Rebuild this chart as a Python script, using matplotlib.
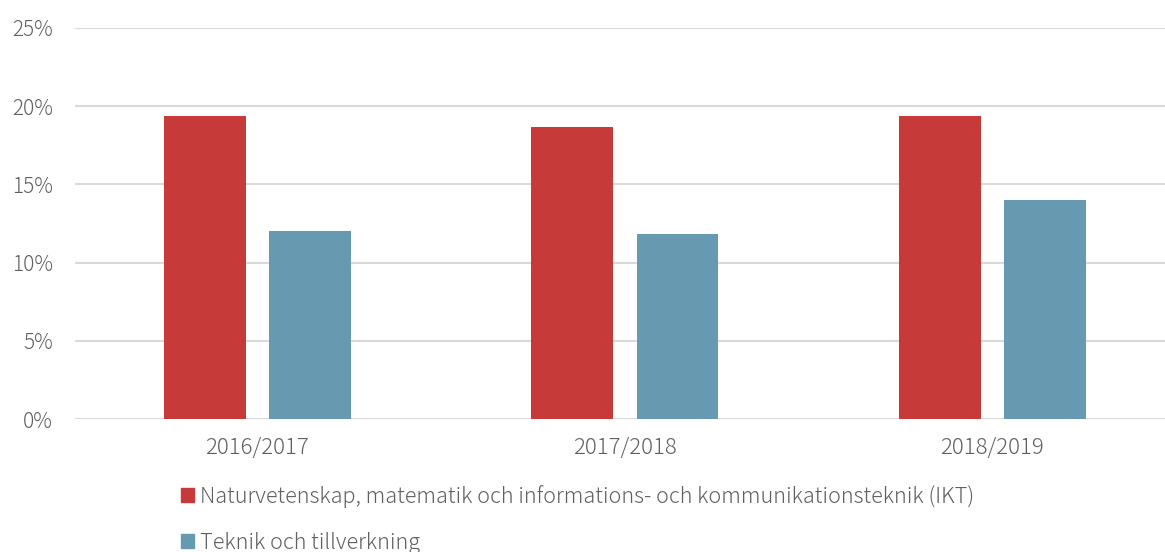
import numpy as np
import matplotlib.pyplot as plt
from matplotlib.patches import Patch
from matplotlib.ticker import FuncFormatter

plt.rcParams['font.family'] = ['Noto Sans CJK JP', 'DejaVu Sans']
plt.rcParams['font.weight'] = 'light'

# data
years = ['2016/2017', '2017/2018', '2018/2019']
ikt = [19.4, 18.7, 19.4]
teknik = [12.0, 11.8, 14.0]
labels = ['Naturvetenskap, matematik och informations- och kommunikationsteknik (IKT)',
          'Teknik och tillverkning']

red = '#C63A3A'
blue = '#6799B0'
txt = '#606060'

fig = plt.figure(figsize=(11.65, 5.52), dpi=100)
ax = fig.add_axes([75/1165, 1 - 419/552, 1090/1165, 391/552])

x = np.arange(len(years))
w = 0.223
off = w/2 + 0.032
ax.bar(x - off, ikt, w, color=red, zorder=3)
ax.bar(x + off, teknik, w, color=blue, zorder=3)

ax.set_ylim(0, 25)
ax.set_xlim(-0.496, 2.47)
ax.set_yticks([0, 5, 10, 15, 20, 25])
ax.yaxis.set_major_formatter(FuncFormatter(lambda v, p: f'{v:.0f}%'))
ax.set_xticks(x)
ax.set_xticklabels(years)
ax.grid(axis='y', color='#D9D9D9', linewidth=1.5, zorder=0)
for s in ax.spines.values():
    s.set_visible(False)
ax.tick_params(length=0, labelsize=16, colors=txt, pad=13)
ax.tick_params(axis='y', labelsize=15, pad=16)

handles = [Patch(color=red), Patch(color=blue)]
fig.legend(handles, labels, loc='upper left', bbox_to_anchor=(181/1165, 1 - 485/552),
           frameon=False, fontsize=15.6, labelcolor=txt, handlelength=0.6, handleheight=0.6,
           handletextpad=0.3, labelspacing=1.1, borderaxespad=0, borderpad=0)

fig.savefig('out.png', dpi=100)
